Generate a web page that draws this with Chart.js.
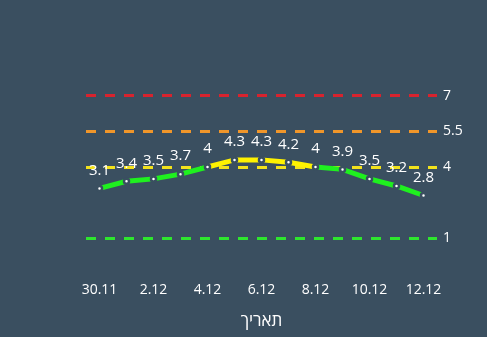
<!DOCTYPE html>
<html>
<head>
<meta charset="utf-8">
<script src="https://cdn.jsdelivr.net/npm/chart.js@4"></script>
<style>
  html, body { margin: 0; padding: 0; background: #3a4f60; }
  #wrap { width: 487px; height: 337px; }
</style>
</head>
<body>
<div id="wrap"><canvas id="grafico"></canvas></div>
<script>
const datas = ["30.11", "1.12", "2.12", "3.12", "4.12", "5.12", "6.12", "7.12", "8.12", "9.12", "10.12", "11.12", "12.12"];
const valores = [3.1, 3.4, 3.5, 3.7, 4, 4.3, 4.3, 4.2, 4, 3.9, 3.5, 3.2, 2.8];
const limites = [1, 4, 5.5, 7];
const coresLimites = ["#2ee62e", "#f2e21c", "#f0962a", "#d8232e"];
const limiteAmarelo = 4;

const corFundo = "#3a4f60";
const fonte = "'Open Sans', sans-serif";

// rotulos de valor acima dos pontos
const rotulosPlugin = {
  id: "rotulos",
  afterDatasetsDraw(chart) {
    const ctx = chart.ctx;
    const meta = chart.getDatasetMeta(0);
    ctx.save();
    ctx.fillStyle = "#ffffff";
    ctx.font = "15px " + fonte;
    ctx.textAlign = "center";
    ctx.textBaseline = "middle";
    meta.data.forEach((ponto, i) => {
      ctx.fillText(String(valores[i]), ponto.x, ponto.y - 18);
    });
    ctx.restore();
  }
};

function corLimite(ctx) {
  const i = limites.indexOf(ctx.tick.value);
  return i >= 0 ? coresLimites[i] : "rgba(0,0,0,0)";
}

new Chart(document.getElementById("grafico"), {
  type: "line",
  data: {
    labels: datas,
    datasets: [
      {
        data: valores,
        borderWidth: 5,
        borderColor: "#1ff01f",
        segment: {
          borderColor: ctx =>
            Math.min(ctx.p0.parsed.y, ctx.p1.parsed.y) >= limiteAmarelo ? "#fff200" : "#1ff01f"
        },
        pointRadius: 2.5,
        pointBackgroundColor: "#ffffff",
        pointBorderColor: corFundo,
        pointBorderWidth: 2.5,
        tension: 0
      }
    ]
  },
  options: {
    responsive: true,
    maintainAspectRatio: false,
    animation: false,
    layout: { padding: { top: 72, left: 86, right: 0, bottom: 4 } },
    plugins: {
      legend: { display: false },
      tooltip: { enabled: false }
    },
    scales: {
      x: {
        offset: true,
        afterFit: scale => {
          scale.height = 71;
        },
        grid: { display: false, drawTicks: false },
        border: { display: false },
        ticks: {
          color: "#ffffff",
          font: { family: fonte, size: 14 },
          padding: 20,
          autoSkip: false,
          maxRotation: 0,
          callback: (v, i) => (i % 2 === 0 ? datas[i] : "")
        },
        title: {
          display: true,
          text: "תאריך",
          color: "#ffffff",
          font: { family: fonte, size: 17 },
          padding: { top: 8, bottom: 2 }
        }
      },
      y: {
        position: "right",
        min: 0,
        max: 8,
        afterBuildTicks: scale => {
          scale.ticks = limites.map(v => ({ value: v }));
        },
        afterFit: scale => {
          scale.width = 50;
        },
        grid: {
          drawTicks: false,
          color: corLimite,
          lineWidth: 3
        },
        border: { display: false, dash: [10, 9] },
        ticks: {
          color: "#ffffff",
          font: { family: fonte, size: 14 },
          padding: 6
        }
      }
    }
  },
  plugins: [rotulosPlugin]
});
</script>
</body>
</html>
